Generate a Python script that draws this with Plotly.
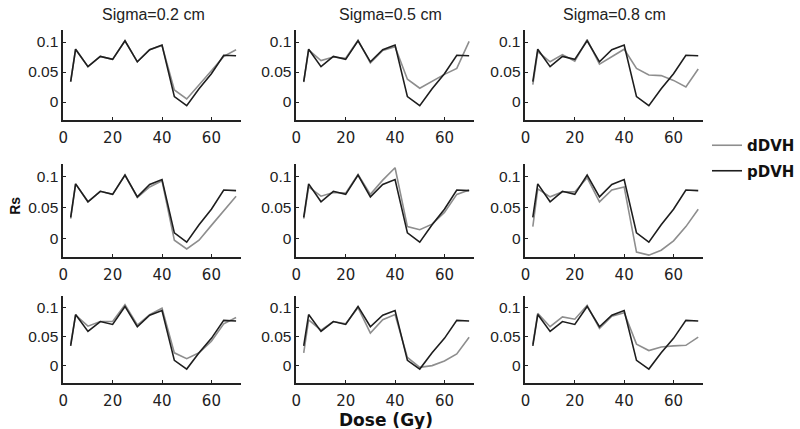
import plotly.graph_objects as go
from plotly.subplots import make_subplots

dose = [3, 5, 10, 15, 20, 25, 30, 35, 40, 45, 50, 55, 60, 65, 70]
pdvh = [0.034, 0.088, 0.059, 0.076, 0.071, 0.102, 0.067, 0.087, 0.095, 0.009, -0.006, 0.022, 0.047, 0.078, 0.077]

# dDVH per panel (rows = cases, cols = sigma)
d_r1c1 = [0.034, 0.088, 0.059, 0.076, 0.071, 0.102, 0.067, 0.087, 0.094, 0.020, 0.005, 0.028, 0.052, 0.076, 0.087]
d_r1c2 = [0.033, 0.087, 0.069, 0.075, 0.073, 0.103, 0.065, 0.086, 0.092, 0.038, 0.023, 0.035, 0.046, 0.056, 0.101]
d_r1c3 = [0.029, 0.084, 0.067, 0.079, 0.068, 0.104, 0.063, 0.076, 0.088, 0.056, 0.045, 0.044, 0.036, 0.025, 0.055]
d_r2c1 = [0.032, 0.088, 0.059, 0.076, 0.071, 0.102, 0.066, 0.083, 0.093, -0.003, -0.017, -0.003, 0.021, 0.045, 0.068]
d_r2c2 = [0.032, 0.083, 0.068, 0.074, 0.073, 0.103, 0.071, 0.094, 0.114, 0.019, 0.014, 0.023, 0.042, 0.071, 0.078]
d_r2c3 = [0.019, 0.080, 0.067, 0.075, 0.075, 0.098, 0.059, 0.078, 0.083, -0.022, -0.027, -0.019, -0.004, 0.019, 0.047]
d_r3c1 = [0.037, 0.087, 0.068, 0.076, 0.076, 0.105, 0.070, 0.088, 0.099, 0.022, 0.012, 0.022, 0.042, 0.072, 0.083]
d_r3c2 = [0.022, 0.079, 0.061, 0.076, 0.072, 0.100, 0.056, 0.079, 0.088, 0.014, -0.003, 0.000, 0.008, 0.020, 0.049]
d_r3c3 = [0.037, 0.090, 0.067, 0.084, 0.080, 0.104, 0.064, 0.085, 0.091, 0.037, 0.026, 0.032, 0.034, 0.035, 0.049]

ddvh = [[d_r1c1, d_r1c2, d_r1c3],
        [d_r2c1, d_r2c2, d_r2c3],
        [d_r3c1, d_r3c2, d_r3c3]]

col_titles = ["Sigma=0.2 cm", "Sigma=0.5 cm", "Sigma=0.8 cm"]
x_ticks = [0, 20, 40, 60]
y_ticks = [0, 0.05, 0.1]
y_tick_text = ["0", "0.05", "0.1"]

GRAY = "#8e8e8e"
BLACK = "#1e1e1e"
AX = "#222222"
W, H = 800, 429

col_px = [(59, 239), (295, 475), (527, 707)]
row_px = [(30, 120), (164, 257), (296, 383)]
title_cx = [150, 390, 617]

fig = make_subplots(rows=3, cols=3)

for r in range(3):
    for c in range(3):
        first = (r == 0 and c == 0)
        fig.add_trace(go.Scatter(x=dose, y=ddvh[r][c], mode="lines", name="<b>dDVH</b>",
                                 line=dict(color=GRAY, width=1.6), showlegend=first,
                                 legendgroup="d", legendrank=1), row=r + 1, col=c + 1)
        fig.add_trace(go.Scatter(x=dose, y=pdvh, mode="lines", name="<b>pDVH</b>",
                                 line=dict(color=BLACK, width=1.6), showlegend=first,
                                 legendgroup="p", legendrank=2), row=r + 1, col=c + 1)
        idx = r * 3 + c + 1
        xa = "xaxis" if idx == 1 else f"xaxis{idx}"
        ya = "yaxis" if idx == 1 else f"yaxis{idx}"
        x0, x1 = col_px[c]
        y0, y1 = row_px[r]
        fig.layout[xa].update(domain=[x0 / W, x1 / W], range=[0, 72], tickvals=x_ticks,
                              ticks="inside", ticklen=3, tickcolor=AX, showline=True,
                              linecolor=AX, linewidth=1.6, showgrid=False, zeroline=False,
                              ticklabelstandoff=3,
                              tickfont=dict(family="DejaVu Sans", size=15, color=AX))
        fig.layout[ya].update(domain=[1 - y1 / H, 1 - y0 / H], range=[-0.03, 0.12],
                              tickvals=y_ticks, ticktext=y_tick_text,
                              ticks="inside", ticklen=3, tickcolor=AX, showline=True,
                              linecolor=AX, linewidth=1.6, showgrid=False, zeroline=False,
                              tickfont=dict(family="Liberation Sans", size=15.5, color=AX))

for c in range(3):
    fig.add_annotation(text=col_titles[c], x=title_cx[c] / W, y=1 - 14 / H, xref="paper", yref="paper",
                       showarrow=False, font=dict(family="Liberation Sans", size=16, color=AX),
                       xanchor="center", yanchor="middle")

fig.add_annotation(text="<b>Rs</b>", x=10.5 / W, y=1 - 205.5 / H, xref="paper", yref="paper", textangle=-90,
                   showarrow=False, font=dict(family="Liberation Sans", size=14, color="#111"),
                   xanchor="center", yanchor="middle")
fig.add_annotation(text="<b>Dose (Gy)</b>", x=386 / W, y=1 - 420 / H, xref="paper", yref="paper",
                   showarrow=False, font=dict(family="DejaVu Sans", size=17, color="#111"),
                   xanchor="center", yanchor="middle")

fig.update_layout(
    width=W, height=H, margin=dict(l=0, r=0, t=0, b=0),
    paper_bgcolor="white", plot_bgcolor="white",
    font=dict(family="Liberation Sans, Arial, sans-serif"),
    legend=dict(x=711 / W, y=1 - 129 / H, xanchor="left", yanchor="top",
                font=dict(family="DejaVu Sans", size=15, color="#111"), bgcolor="rgba(0,0,0,0)",
                itemwidth=30, tracegroupgap=3),
)

fig.write_html("out.html", config={"displayModeBar": False},
               post_script="document.body.style.margin='0';")
